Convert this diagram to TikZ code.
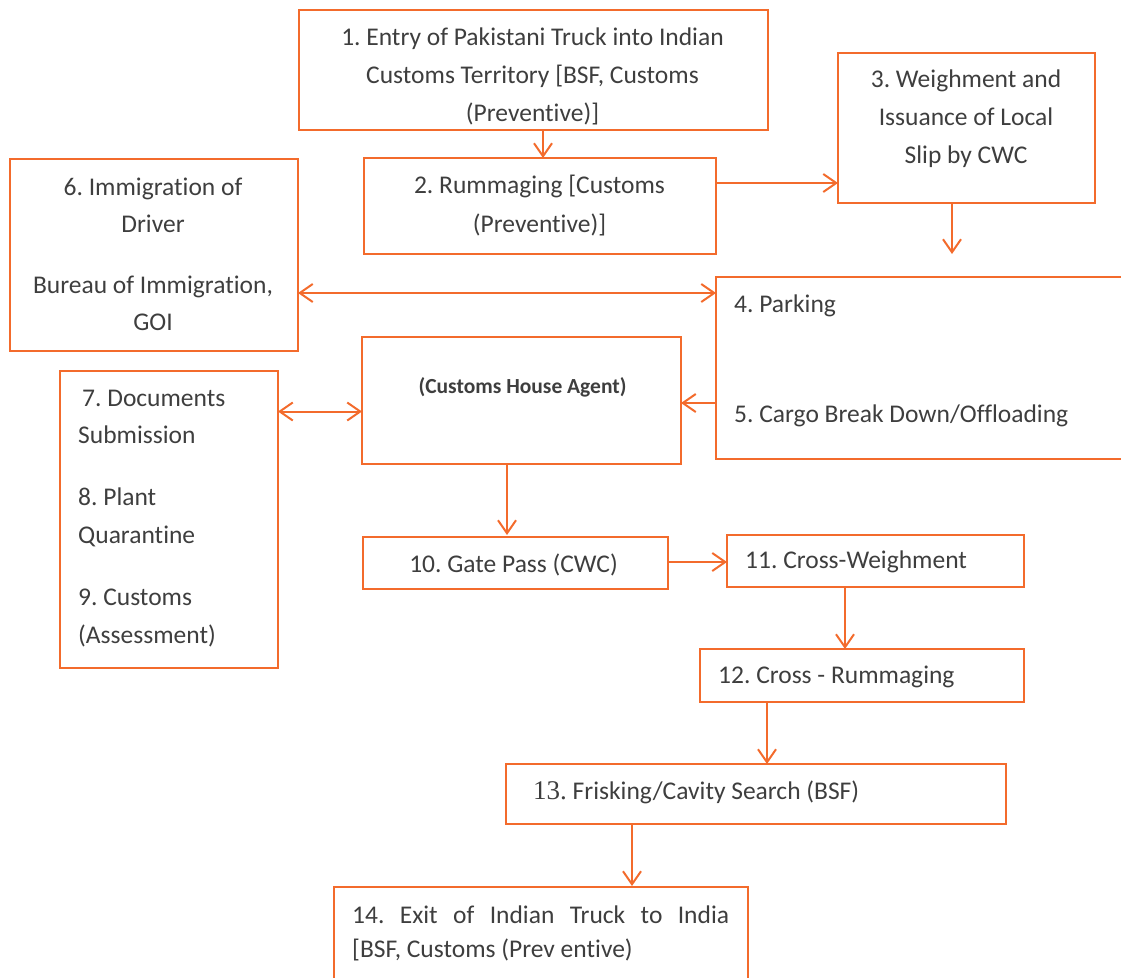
\documentclass[tikz,border=0pt]{standalone}
\usepackage{fontspec}
\setmainfont{Carlito}[Ligatures={NoCommon}]
\newfontfamily\numserif{Liberation Serif}
\usetikzlibrary{arrows.meta,calc}
\definecolor{flow}{HTML}{F36B2C}
\definecolor{ink}{HTML}{3E3E3E}
\frenchspacing
\begin{document}
\begin{tikzpicture}[x=1pt,y=-1pt,
  box/.style={draw=flow, line width=2pt, fill=none, inner sep=0pt, outer sep=0pt},
  ctext/.style={anchor=base, inner sep=0pt, text=ink, font=\fontsize{25.5}{38}\selectfont},
  ltext/.style={anchor=base west, inner sep=0pt, text=ink, font=\fontsize{25.5}{38}\selectfont},
  arr/.style={draw=flow, line width=2pt, -{Straight Barb[length=13pt,width=18pt]}},
  darr/.style={draw=flow, line width=2pt, {Straight Barb[length=13pt,width=18pt]}-{Straight Barb[length=13pt,width=18pt]}}]
\useasboundingbox (0,0) rectangle (1121,977);

% boxes
\node[box, minimum width=469pt, minimum height=120pt] (n1)  at (533.5,70)   {};
\node[box, minimum width=352pt, minimum height=96pt]  (n2)  at (540,206)    {};
\node[box, minimum width=257pt, minimum height=150pt] (n3)  at (966.5,128)  {};
\node[box, minimum width=288pt, minimum height=192pt] (n6)  at (154,255)    {};
\node[box, minimum width=419pt, minimum height=182pt] (n45) at (925.5,368)  {};
\node[box, minimum width=319pt, minimum height=127pt] (ncha) at (521.5,400.5) {};
\node[box, minimum width=218pt, minimum height=297pt] (n79) at (169,519.5)  {};
\node[box, minimum width=305pt, minimum height=52pt]  (n10) at (515.5,563)  {};
\node[box, minimum width=297pt, minimum height=52pt]  (n11) at (875.5,561)  {};
\node[box, minimum width=324pt, minimum height=53pt]  (n12) at (862,675.5)  {};
\node[box, minimum width=500pt, minimum height=60pt]  (n13) at (756,794)    {};
\node[box, minimum width=414pt, minimum height=108pt] (n14) at (541,941)    {};

% texts
\node[ctext] (t1a) at (532.5,45)  {1. Entry of Pakistani Truck into Indian};
\node[ctext] (t1b) at (532.5,83)  {Customs Territory [BSF, Customs};
\node[ctext] (t1c) at (532.5,121) {(Preventive)]};

\node[ctext] (t2a) at (539.5,193) {2. Rummaging [Customs};
\node[ctext] (t2b) at (539.5,232) {(Preventive)]};

\node[ctext] (t3a) at (966,87)  {3. Weighment and};
\node[ctext] (t3b) at (966,125) {Issuance of Local};
\node[ctext] (t3c) at (966,163) {Slip by CWC};

\node[ctext] (t6a) at (153,195) {6. Immigration of};
\node[ctext] (t6b) at (153,232) {Driver};
\node[ctext] (t6c) at (153,293) {Bureau of Immigration,};
\node[ctext] (t6d) at (153,330) {GOI};

\node[ltext] (t4) at (734,312) {4. Parking};
\node[ltext] (t5) at (734,422) {5. Cargo Break Down/Offloading};

\node[anchor=base, inner sep=0pt, text=ink, font=\bfseries\fontsize{21.5}{26}\selectfont] (tcha) at (522.5,393) {(Customs House Agent)};

\node[ltext] (t7a) at (82,406) {7. Documents};
\node[ltext] (t7b) at (78,443) {Submission};
\node[ltext] (t8a) at (78,505) {8. Plant};
\node[ltext] (t8b) at (78,543) {Quarantine};
\node[ltext] (t9a) at (78,605) {9. Customs};
\node[ltext] (t9b) at (78,643) {(Assessment)};

\node[ctext] (t10) at (513.5,572) {10. Gate Pass (CWC)};
\node[ltext] (t11) at (745,568) {11. Cross-Weighment};
\node[ltext] (t12) at (718,683) {12. Cross - Rummaging};
\node[ltext] (t13) at (533,799) {{\numserif\fontsize{27}{30}\selectfont 13.} Frisking/Cavity Search (BSF)};

\node[ltext] (t14a) at (352,923) {\makebox[377pt][s]{14. Exit of Indian Truck to India}};
\node[ltext] (t14b) at (352,957) {[BSF, Customs (Prev entive)};

% connectors
\coordinate (c4) at ($(n3.south)+(-14.5,51)$);
\draw[arr]  ($(n1.south)+(9.5,0)$) -- ($(n2.north)+(3,0)$);
\draw[arr]  ($(n2.east)+(0,-23)$) -- ($(n3.west)+(0,55)$);
\draw[arr]  ($(n3.south)+(-14.5,0)$) -- (c4);
\draw[darr] ($(n6.east)+(0,38)$) -- ($(n45.west)+(0,-75)$);
\draw[arr]  ($(n45.west)+(0,35)$) -- ($(ncha.east)+(0,2.5)$);
\draw[darr] ($(n79.east)+(0,-108)$) -- ($(ncha.west)+(0,11)$);
\draw[arr]  ($(ncha.south)+(-14.5,0)$) -- ($(n10.north)+(-8.5,-2)$);
\draw[arr]  ($(n10.east)+(0,-1)$) -- ($(n11.west)+(0,1)$);
\draw[arr]  ($(n11.south)+(-30.5,0)$) -- ($(n12.north)+(-17,0)$);
\draw[arr]  ($(n12.south)+(-95,0)$) -- ($(n13.north)+(11,0)$);
\draw[arr]  ($(n13.south)+(-124,0)$) -- ($(n14.north)+(91,-1)$);
\end{tikzpicture}
\end{document}
